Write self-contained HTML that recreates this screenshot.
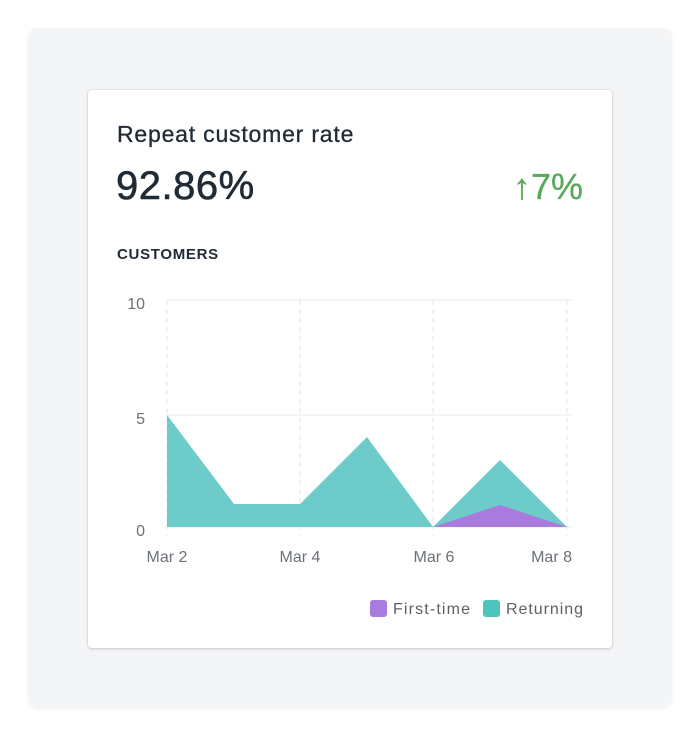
<!DOCTYPE html>
<html><head><style>
body{margin:0;width:700px;height:737px;background:#fff;font-family:"Liberation Sans",sans-serif;position:relative;overflow:hidden}
.outer{position:absolute;left:28px;top:28px;width:644px;height:680px;background:#f4f5f7;border-radius:10px;box-shadow:0 1px 3px rgba(0,0,0,.06)}
.card{position:absolute;left:88px;top:90px;width:524px;height:558px;background:#fff;border-radius:4px;box-shadow:0 0 0 1px rgba(63,63,68,.06),0 1px 3px rgba(63,63,68,.2)}
.t{position:absolute;color:#212b36;white-space:nowrap}
</style></head><body>
<div class="outer"></div>
<div class="card"></div>
<div class="t" style="left:117px;top:121px;font-size:23px;letter-spacing:0.8px;-webkit-text-stroke:0.3px #212b36">Repeat customer rate</div>
<div class="t" style="left:116px;top:164px;font-size:40px;letter-spacing:0.5px;-webkit-text-stroke:0.6px #212b36">92.86%</div>
<div class="t" style="right:117px;top:166px;font-size:36px;color:#5aa95a;-webkit-text-stroke:0.3px #5aa95a">↑7%</div>
<div class="t" style="left:117px;top:246px;font-size:15px;font-weight:bold;letter-spacing:.7px">CUSTOMERS</div>
<svg style="position:absolute;left:0;top:0" width="700" height="737">
<g stroke="#e6e8eb" stroke-width="1">
<line x1="167" y1="300" x2="572" y2="300"/><line x1="167" y1="415" x2="572" y2="415"/><line x1="167" y1="527" x2="572" y2="527"/>
</g>
<g stroke="#e3e5e8" stroke-dasharray="5,4">
<line x1="167" y1="300" x2="167" y2="535"/><line x1="300" y1="300" x2="300" y2="535"/><line x1="433" y1="300" x2="433" y2="535"/><line x1="567" y1="300" x2="567" y2="535"/>
</g>
<polygon fill="#6dccc9" points="167,415 234,504 300,504 367,437 433,527 500,460 567,527 167,527"/>
<polygon fill="#a97bdf" points="433,527 500,505 567,527"/>
<g fill="#6b7177" font-size="16" font-family="Liberation Sans,sans-serif">
<text x="145" y="309" text-anchor="end">10</text>
<text x="145" y="424" text-anchor="end">5</text>
<text x="145" y="536" text-anchor="end">0</text>
<text x="167" y="562" text-anchor="middle">Mar 2</text>
<text x="300" y="562" text-anchor="middle">Mar 4</text>
<text x="434" y="562" text-anchor="middle">Mar 6</text>
<text x="572" y="562" text-anchor="end">Mar 8</text>
<rect x="370" y="600" width="17" height="17" rx="3" fill="#a97bdf"/>
<text x="393" y="614" fill="#5c6166" textLength="77">First-time</text>
<rect x="483" y="600" width="17" height="17" rx="3" fill="#4fc3be"/>
<text x="506" y="614" fill="#5c6166" textLength="77">Returning</text>
</g>
</svg>
</body></html>
